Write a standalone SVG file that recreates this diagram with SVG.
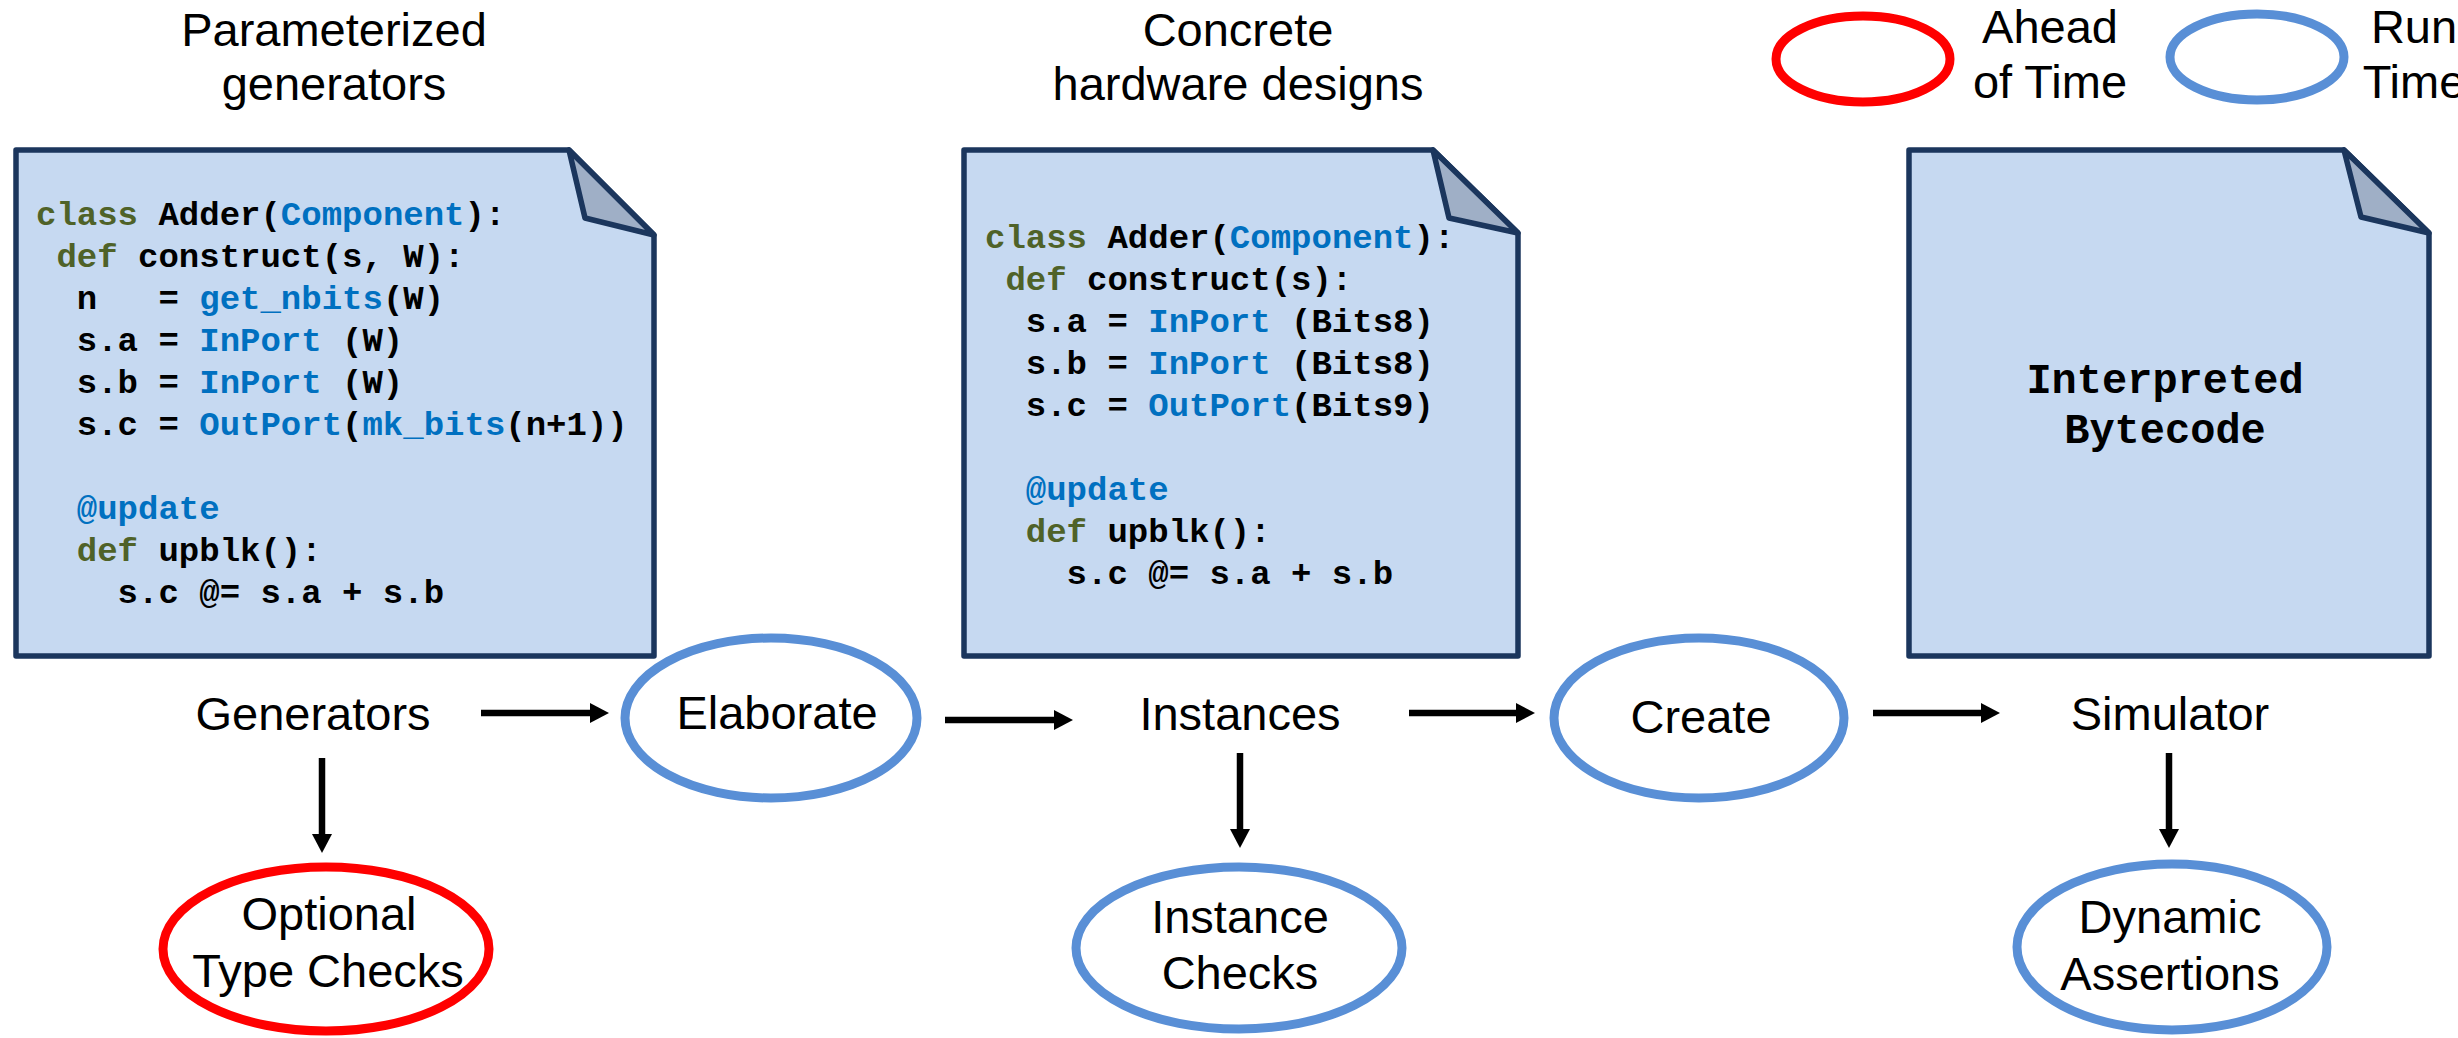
<svg xmlns="http://www.w3.org/2000/svg" width="2458" height="1038" viewBox="0 0 2458 1038">
  <defs>
    <style>
      .lbl { font-family: "Liberation Sans", Arial, Helvetica, sans-serif; font-size: 47px; fill: #000; text-anchor: middle; }
      .code { font-family: "Liberation Mono", "Courier New", monospace; font-size: 34px; font-weight: bold; fill: #000; }
      .big { font-family: "Liberation Mono", "Courier New", monospace; font-size: 42px; font-weight: bold; fill: #000; text-anchor: middle; }
      .kw { fill: #4F6228; }
      .fn { fill: #0070C0; }
      .doc { fill: #C6D9F1; stroke: #1B365D; stroke-width: 5.5; stroke-linejoin: round; }
      .fold { fill: #9FAFC6; stroke: #1B365D; stroke-width: 5.5; stroke-linejoin: round; }
      .aot { fill: #FFFFFF; stroke: #FF0000; stroke-width: 9; }
      .rt { fill: #FFFFFF; stroke: #598FD6; stroke-width: 9; }
      .arrow { stroke: #000; stroke-width: 6.5; fill: none; marker-end: url(#head); }
    </style>
    <marker id="head" markerUnits="userSpaceOnUse" markerWidth="20" markerHeight="20" refX="1" refY="10" orient="auto">
      <path d="M0,0 L19,10 L0,20 Z" fill="#000"/>
    </marker>
  </defs>

  <!-- column headings -->
  <g id="heading-generators">
    <text class="lbl" x="334" y="46">Parameterized</text>
    <text class="lbl" x="334" y="100">generators</text>
  </g>
  <g id="heading-designs">
    <text class="lbl" x="1238" y="46">Concrete</text>
    <text class="lbl" x="1238" y="100">hardware designs</text>
  </g>

  <!-- legend -->
  <g id="legend-ahead-of-time">
    <ellipse class="aot" cx="1863" cy="59" rx="87" ry="43"/>
    <text class="lbl" x="2050" y="43">Ahead</text>
    <text class="lbl" x="2050" y="98">of Time</text>
  </g>
  <g id="legend-run-time">
    <ellipse class="rt" cx="2257" cy="57" rx="87" ry="43"/>
    <text class="lbl" x="2414" y="43">Run</text>
    <text class="lbl" x="2414" y="98">Time</text>
  </g>

  <!-- generator source -->
  <g id="doc-generator">
    <path class="doc" d="M16,150 L569,150 L654,235 L654,656 L16,656 Z"/>
    <path class="fold" d="M569,150 L585,218 L654,235 Z"/>
    <text class="code" xml:space="preserve"><tspan x="36" y="225"><tspan class="kw">class</tspan> Adder(<tspan class="fn">Component</tspan>):</tspan><tspan x="36" y="267"> <tspan class="kw">def</tspan> construct(s, W):</tspan><tspan x="36" y="309">  n   = <tspan class="fn">get_nbits</tspan>(W)</tspan><tspan x="36" y="351">  s.a = <tspan class="fn">InPort</tspan> (W)</tspan><tspan x="36" y="393">  s.b = <tspan class="fn">InPort</tspan> (W)</tspan><tspan x="36" y="435">  s.c = <tspan class="fn">OutPort</tspan>(<tspan class="fn">mk_bits</tspan>(n+1))</tspan><tspan x="36" y="519">  <tspan class="fn">@update</tspan></tspan><tspan x="36" y="561">  <tspan class="kw">def</tspan> upblk():</tspan><tspan x="36" y="603">    s.c @= s.a + s.b</tspan></text>
  </g>

  <!-- elaborated instance -->
  <g id="doc-instance">
    <path class="doc" d="M964,150 L1433,150 L1518,233 L1518,656 L964,656 Z"/>
    <path class="fold" d="M1433,150 L1449,218 L1518,233 Z"/>
    <text class="code" xml:space="preserve"><tspan x="985" y="248"><tspan class="kw">class</tspan> Adder(<tspan class="fn">Component</tspan>):</tspan><tspan x="985" y="290"> <tspan class="kw">def</tspan> construct(s):</tspan><tspan x="985" y="332">  s.a = <tspan class="fn">InPort</tspan> (Bits8)</tspan><tspan x="985" y="374">  s.b = <tspan class="fn">InPort</tspan> (Bits8)</tspan><tspan x="985" y="416">  s.c = <tspan class="fn">OutPort</tspan>(Bits9)</tspan><tspan x="985" y="500">  <tspan class="fn">@update</tspan></tspan><tspan x="985" y="542">  <tspan class="kw">def</tspan> upblk():</tspan><tspan x="985" y="584">    s.c @= s.a + s.b</tspan></text>
  </g>

  <!-- simulator -->
  <g id="doc-bytecode">
    <path class="doc" d="M1909,150 L2344,150 L2429,233 L2429,656 L1909,656 Z"/>
    <path class="fold" d="M2344,150 L2361,217 L2429,233 Z"/>
    <text class="big" x="2165" y="393">Interpreted</text>
    <text class="big" x="2165" y="443">Bytecode</text>
  </g>

  <!-- pipeline stages -->
  <g id="node-generators">
    <text class="lbl" x="313" y="730">Generators</text>
  </g>
  <g id="node-elaborate">
    <ellipse class="rt" cx="771" cy="718" rx="146" ry="80"/>
    <text class="lbl" x="777" y="729">Elaborate</text>
  </g>
  <g id="node-instances">
    <text class="lbl" x="1240" y="730">Instances</text>
  </g>
  <g id="node-create">
    <ellipse class="rt" cx="1699" cy="718" rx="145" ry="80"/>
    <text class="lbl" x="1701" y="733">Create</text>
  </g>
  <g id="node-simulator">
    <text class="lbl" x="2170" y="730">Simulator</text>
  </g>

  <!-- checks -->
  <g id="node-type-checks">
    <ellipse class="aot" cx="326" cy="949" rx="163" ry="82"/>
    <text class="lbl" x="329" y="930">Optional</text>
    <text class="lbl" x="328" y="987">Type Checks</text>
  </g>
  <g id="node-instance-checks">
    <ellipse class="rt" cx="1239" cy="948" rx="163" ry="81"/>
    <text class="lbl" x="1240" y="933">Instance</text>
    <text class="lbl" x="1240" y="989">Checks</text>
  </g>
  <g id="node-dynamic-assertions">
    <ellipse class="rt" cx="2172" cy="947" rx="155" ry="83"/>
    <text class="lbl" x="2170" y="933">Dynamic</text>
    <text class="lbl" x="2170" y="990">Assertions</text>
  </g>

  <!-- connectors -->
  <g id="connectors">
    <line class="arrow" x1="481" y1="713" x2="591" y2="713"/>
    <line class="arrow" x1="945" y1="720" x2="1055" y2="720"/>
    <line class="arrow" x1="1409" y1="713" x2="1517" y2="713"/>
    <line class="arrow" x1="1873" y1="713" x2="1982" y2="713"/>
    <line class="arrow" x1="322" y1="758" x2="322" y2="835"/>
    <line class="arrow" x1="1240" y1="753" x2="1240" y2="830"/>
    <line class="arrow" x1="2169" y1="753" x2="2169" y2="830"/>
  </g>
</svg>
